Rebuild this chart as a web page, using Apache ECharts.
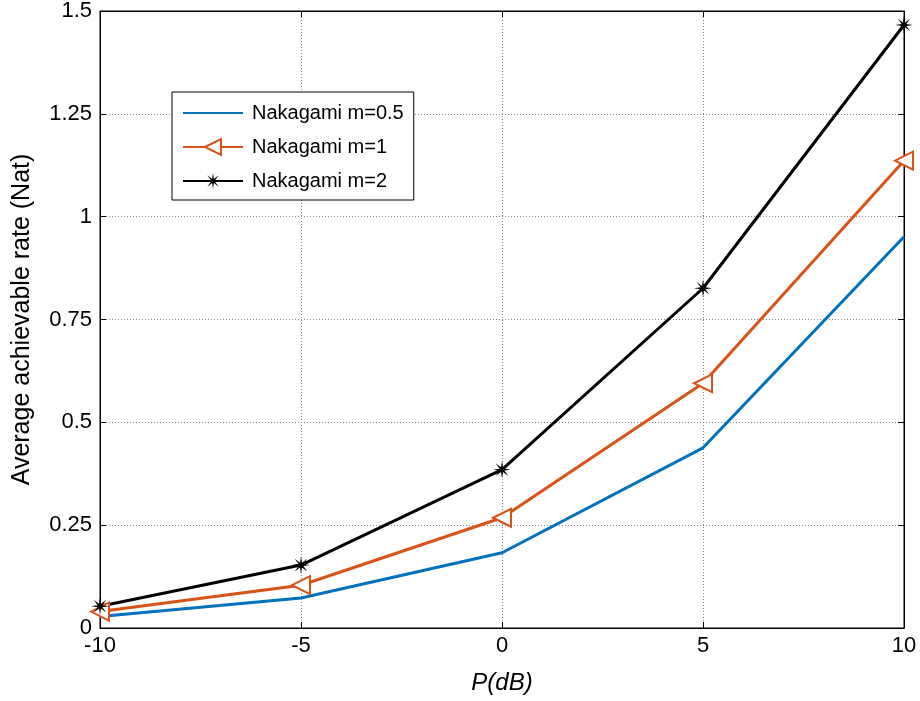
<!DOCTYPE html>
<html>
<head>
<meta charset="utf-8">
<script src="https://cdn.jsdelivr.net/npm/echarts@6/dist/echarts.min.js"></script>
<style>html,body{margin:0;padding:0;background:#fff;}#c{width:920px;height:701px;}</style>
</head>
<body>
<div id="c"></div>
<script>
var xValues = [-10, -5, 0, 5, 10];
var seriesNames = ['Nakagami m=0.5', 'Nakagami m=1', 'Nakagami m=2'];
var m05 = [0.028, 0.073, 0.183, 0.438, 0.951];
var m1 = [0.040, 0.104, 0.268, 0.595, 1.136];
var m2 = [0.053, 0.153, 0.385, 0.826, 1.466];
var yTicks = [0, 0.25, 0.5, 0.75, 1, 1.25, 1.5];

function pairs(v){ return xValues.map(function(x,i){ return [x, v[i]]; }); }

// asterisk-like star path
function starPath(){
  var pts = [];
  var n = 8;
  for (var i = 0; i < n*2; i++){
    var r = (i % 2 === 0) ? 10 : 2.8;
    var a = Math.PI * i / n - Math.PI/2;
    pts.push((10 + r*Math.cos(a)).toFixed(2) + ' ' + (10 + r*Math.sin(a)).toFixed(2));
  }
  return 'path://M' + pts.join(' L') + ' Z';
}

var font = 'Arial, "Liberation Sans", sans-serif';
var chart = echarts.init(document.getElementById('c'));
chart.setOption({
  animation: false,
  backgroundColor: '#fff',
  grid: { left: 100, right: 16, top: 10, bottom: 73, show: true, borderColor: '#000', borderWidth: 1 },
  legend: {
    orient: 'vertical', left: 172, top: 92,
    padding: [11, 10, 9, 10], itemGap: 14, itemWidth: 60, itemHeight: 20,
    backgroundColor: '#fff', borderColor: '#000', borderWidth: 1,
    textStyle: { fontFamily: font, fontSize: 20, color: '#000', padding: [0, 0, 0, 4] },
    data: [
      { name: seriesNames[0], itemStyle: { color: 'rgba(0,0,0,0)', borderColor: 'rgba(0,0,0,0)', borderWidth: 0 } },
      { name: seriesNames[1] },
      { name: seriesNames[2] }
    ]
  },
  xAxis: [{
    type: 'value', min: -10, max: 10, interval: 5,
    name: 'P(dB)', nameLocation: 'middle', nameGap: 43,
    nameTextStyle: { fontFamily: font, fontSize: 24, fontStyle: 'italic', color: '#000' },
    axisLine: { onZero: false, lineStyle: { color: '#000', width: 1 } },
    axisTick: { inside: true, length: 6, lineStyle: { color: '#000' } },
    axisLabel: { fontFamily: font, fontSize: 22, color: '#000', margin: 7 },
    splitLine: { show: true, lineStyle: { color: '#888', type: [1, 2], width: 1 } }
  }, {
    type: 'value', position: 'top', min: -10, max: 10, interval: 5,
    axisLine: { onZero: false, lineStyle: { color: '#000' } },
    axisTick: { inside: true, length: 6, lineStyle: { color: '#000' } },
    axisLabel: { show: false }, splitLine: { show: false }
  }],
  yAxis: [{
    type: 'value', min: 0, max: 1.5, interval: 0.25,
    name: 'Average achievable rate (Nat)', nameLocation: 'middle', nameGap: 65,
    nameTextStyle: { fontFamily: font, fontSize: 25, color: '#000', padding: [0, 0, 0, 0] },
    axisLine: { show: true, onZero: false, lineStyle: { color: '#000', width: 1 } },
    axisTick: { show: true, inside: true, length: 6, lineStyle: { color: '#000' } },
    axisLabel: { fontFamily: font, fontSize: 22, color: '#000', margin: 8,
      formatter: function(v){ return String(v); } },
    splitLine: { show: true, lineStyle: { color: '#888', type: [1, 2], width: 1 } }
  }, {
    type: 'value', position: 'right', min: 0, max: 1.5, interval: 0.25,
    axisLine: { show: true, onZero: false, lineStyle: { color: '#000' } },
    axisTick: { show: true, inside: true, length: 6, lineStyle: { color: '#000' } },
    axisLabel: { show: false }, splitLine: { show: false }
  }],
  series: [{
    name: seriesNames[0], type: 'line', data: pairs(m05),
    symbol: 'none', lineStyle: { color: '#0072BD', width: 3 }, itemStyle: { color: '#0072BD' }
  }, {
    name: seriesNames[1], type: 'line', data: pairs(m1),
    symbol: 'emptyTriangle', symbolSize: 18, symbolRotate: 90,
    lineStyle: { color: '#D95319', width: 3 },
    itemStyle: { color: '#D95319', borderColor: '#D95319', borderWidth: 2.5 }
  }, {
    name: seriesNames[2], type: 'line', data: pairs(m2),
    symbol: starPath(), symbolSize: 18,
    lineStyle: { color: '#000', width: 3 },
    itemStyle: { color: '#000' }
  }]
});
</script>
</body>
</html>
